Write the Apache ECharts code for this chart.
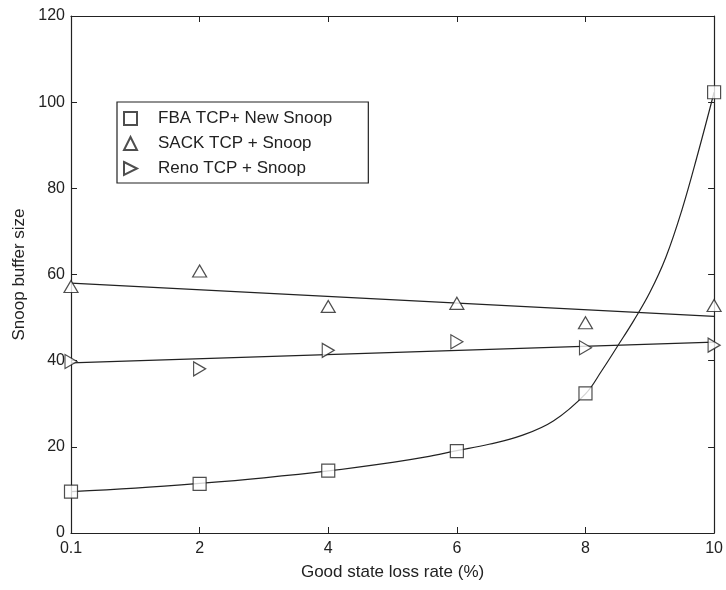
<!DOCTYPE html>
<html>
<head>
<meta charset="utf-8">
<script src="https://cdn.jsdelivr.net/npm/echarts@6/dist/echarts.min.js"></script>
<style>
html,body{margin:0;padding:0;background:#fff;}
#chart{width:726px;height:590px;}
</style>
</head>
<body>
<div id="chart"></div>
<script>
// x positions (first point drawn at the axis origin, labelled 0.1)
const xPos = [0, 2, 4, 6, 8, 10];
const xTickLabels = ['0.1', '2', '4', '6', '8', '10'];
const yTicks = [0, 20, 40, 60, 80, 100, 120];

// measured points
const fbaVals  = [9.6, 11.4, 14.5, 19.0, 32.4, 102.3];
const sackVals = [57.2, 60.8, 52.6, 53.3, 48.8, 52.8];
const renoVals = [39.8, 38.1, 42.4, 44.4, 43.0, 43.6];

// fitted curves
const fbaFitX = [0, 1, 2, 3, 4, 5, 5.5, 6, 6.5, 7, 7.5, 8, 8.25, 8.5, 8.75, 9, 9.25, 9.5, 9.75, 10];
const fbaFitY = [9.6, 10.4, 11.5, 12.8, 14.4, 16.4, 17.6, 19.1, 20.6, 22.6, 26.0, 32.3, 37.6, 43.4, 49.3, 55.8, 64.0, 75.0, 88.2, 102.3];
const sackFitX = [0, 10];
const sackFitY = [58.0, 50.3];
const renoFitX = [0, 10];
const renoFitY = [39.5, 44.3];

const seriesNames = ['FBA TCP+ New Snoop', 'SACK TCP + Snoop', 'Reno TCP + Snoop'];

const pairs = (xs, ys) => xs.map((x, i) => [x, ys[i]]);
const ink = '#222';
const fontFam = '"Liberation Sans", Arial, Helvetica, sans-serif';
const rightTri = 'path://M0,0 L10,5 L0,10 Z';

const chart = echarts.init(document.getElementById('chart'), null, {renderer: 'canvas'});

const markerStyle = {color: '#fff', borderColor: ink, borderWidth: 1.2};
const lineStyle = {color: ink, width: 1.2};

chart.setOption({
  animation: false,
  backgroundColor: '#fff',
  grid: {left: 71, right: 10, top: 16, bottom: 57, containLabel: false},
  legend: {
    orient: 'vertical',
    left: 117, top: 102,
    width: 250,
    padding: [8, 36, 6, 6],
    itemGap: 8,
    itemWidth: 13, itemHeight: 13,
    borderColor: ink, borderWidth: 1.2,
    backgroundColor: '#fff',
    textStyle: {fontFamily: fontFam, fontSize: 17, color: ink, padding: [0, 0, 0, 16]},
    data: [
      {name: seriesNames[0], icon: 'rect'},
      {name: seriesNames[1], icon: 'triangle'},
      {name: seriesNames[2], icon: rightTri}
    ]
  },
  xAxis: [{
    type: 'value', min: 0, max: 10, interval: 2,
    name: 'Good state loss rate (%)', nameLocation: 'middle', nameGap: 31,
    nameTextStyle: {fontFamily: fontFam, fontSize: 17, color: ink},
    axisLine: {show: true, lineStyle: {color: ink, width: 1.2}},
    axisTick: {show: true, inside: true, length: 6, lineStyle: {color: ink}},
    axisLabel: {fontFamily: fontFam, fontSize: 16, color: ink, margin: 8,
      formatter: v => { const i = xPos.indexOf(v); return i >= 0 ? xTickLabels[i] : ''; }},
    splitLine: {show: false}
  }, {
    type: 'value', min: 0, max: 10, interval: 2, position: 'top',
    axisLine: {show: true, onZero: false, lineStyle: {color: ink, width: 1.2}},
    axisTick: {show: true, inside: true, length: 6, lineStyle: {color: ink}},
    axisLabel: {show: false}, splitLine: {show: false}
  }],
  yAxis: [{
    type: 'value', min: 0, max: 120, interval: 20,
    name: 'Snoop buffer size', nameLocation: 'middle', nameGap: 40,
    nameTextStyle: {fontFamily: fontFam, fontSize: 17, color: ink},
    axisLine: {show: true, lineStyle: {color: ink, width: 1.2}},
    axisTick: {show: true, inside: true, length: 6, lineStyle: {color: ink}},
    axisLabel: {fontFamily: fontFam, fontSize: 16, color: ink, margin: 6,
      formatter: v => yTicks.indexOf(v) >= 0 ? String(v) : ''},
    splitLine: {show: false}
  }, {
    type: 'value', min: 0, max: 120, interval: 20, position: 'right',
    axisLine: {show: true, onZero: false, lineStyle: {color: ink, width: 1.2}},
    axisTick: {show: true, inside: true, length: 6, lineStyle: {color: ink}},
    axisLabel: {show: false}, splitLine: {show: false}
  }],
  series: [
    {type: 'line', data: pairs(fbaFitX, fbaFitY), smooth: 0.4,
     showSymbol: false, lineStyle: lineStyle, silent: true, z: 2},
    {type: 'line', data: pairs(sackFitX, sackFitY), showSymbol: false, lineStyle: lineStyle, silent: true, z: 2},
    {type: 'line', data: pairs(renoFitX, renoFitY), showSymbol: false, lineStyle: lineStyle, silent: true, z: 2},
    {name: seriesNames[0], type: 'scatter', data: pairs(xPos, fbaVals), symbol: 'rect', symbolSize: 13,
     itemStyle: markerStyle, z: 3},
    {name: seriesNames[1], type: 'scatter', data: pairs(xPos, sackVals), symbol: 'triangle', symbolSize: [14, 12],
     itemStyle: markerStyle, z: 3},
    {name: seriesNames[2], type: 'scatter', data: pairs(xPos, renoVals), symbol: rightTri, symbolSize: [12, 14],
     itemStyle: markerStyle, z: 3}
  ]
});
</script>
</body>
</html>
